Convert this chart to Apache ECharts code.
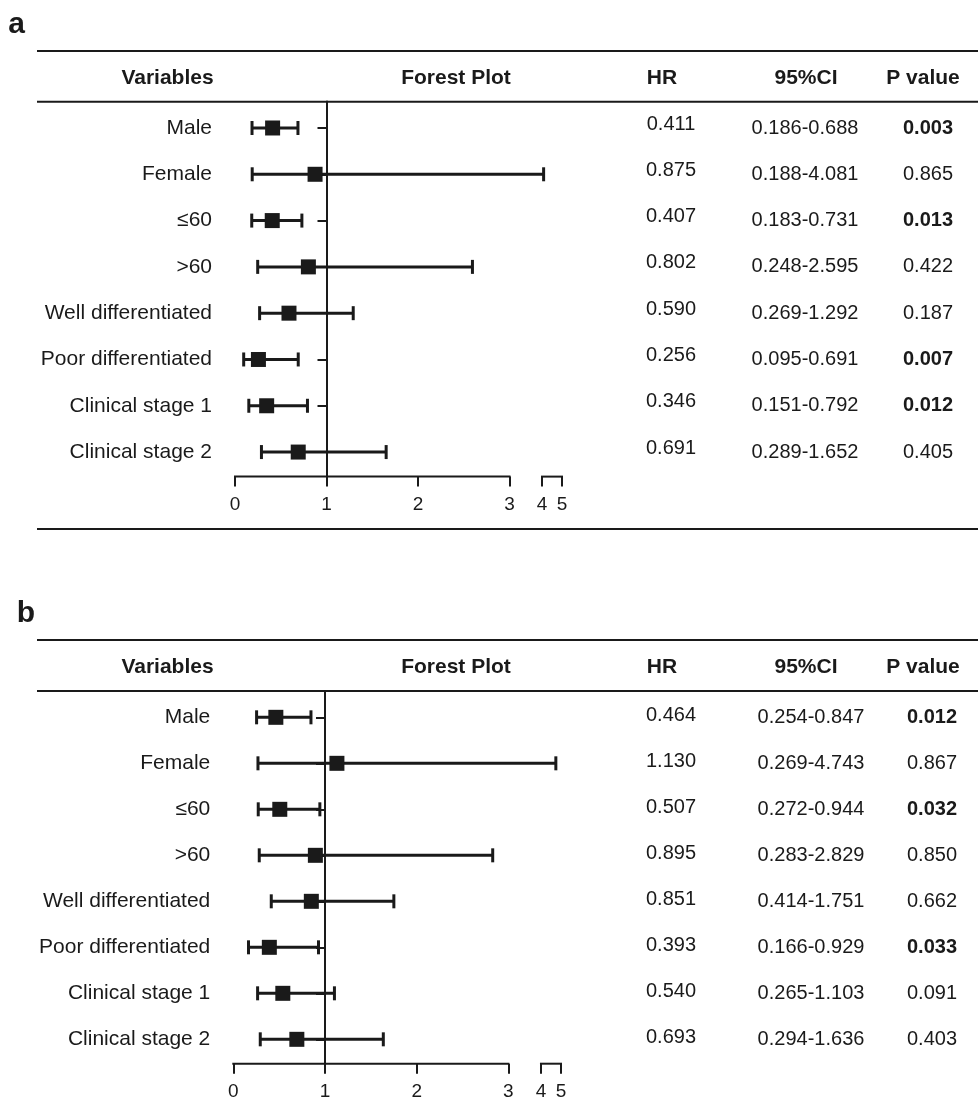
<!DOCTYPE html>
<html>
<head>
<meta charset="utf-8">
<script src="https://cdn.jsdelivr.net/npm/echarts@6/dist/echarts.min.js"></script>
<style>
  html, body { margin: 0; padding: 0; background: #fff; }
  #chart { width: 978px; height: 1113px; }
</style>
</head>
<body>
<div id="chart"></div>
<script>
var varNames = ['Male', 'Female', '≤60', '>60', 'Well differentiated', 'Poor differentiated', 'Clinical stage 1', 'Clinical stage 2'];

// panel a
var hrA = [0.411, 0.875, 0.407, 0.802, 0.590, 0.256, 0.346, 0.691];
var loA = [0.186, 0.188, 0.183, 0.248, 0.269, 0.095, 0.151, 0.289];
var hiA = [0.688, 4.081, 0.731, 2.595, 1.292, 0.691, 0.792, 1.652];
var pA  = [0.003, 0.865, 0.013, 0.422, 0.187, 0.007, 0.012, 0.405];

// panel b
var hrB = [0.464, 1.130, 0.507, 0.895, 0.851, 0.393, 0.540, 0.693];
var loB = [0.254, 0.269, 0.272, 0.283, 0.414, 0.166, 0.265, 0.294];
var hiB = [0.847, 4.743, 0.944, 2.829, 1.751, 0.929, 1.103, 1.636];
var pB  = [0.012, 0.867, 0.032, 0.850, 0.662, 0.033, 0.091, 0.403];

var xTicks = [0, 1, 2, 3, 4, 5];
var axisPieces = [[0, 3], [4, 5]];

var FONT = 'Liberation Sans, Arial, sans-serif';
var INK = '#1a1a1a';
var Y_MIN = -0.57, Y_MAX = 7.53;

// broken scale: 0-3 linear, 3-4 squeezed, 4-5 squeezed more; shifted so HR=1 sits at 0
var D4 = 3 + 32.5 / 91.5, D5 = D4 + 20 / 91.5;
function tx(v) {
  var d;
  if (v <= 3) d = v;
  else if (v <= 4) d = 3 + (v - 3) * (D4 - 3);
  else d = D4 + (v - 4) * (D5 - D4);
  return d - 1;
}
var xTickPos = xTicks.map(tx);
function tickLabel(u) {
  for (var i = 0; i < xTickPos.length; i++) {
    if (Math.abs(xTickPos[i] - u) < 1e-6) return String(xTicks[i]);
  }
  return '';
}
var rowIdx = varNames.map(function (n, i) { return i; });

var panels = [
  { grid: { left: 235, top: 101.6, width: 327, height: 375 }, hr: hrA, lo: loA, hi: hiA, p: pA,
    colHR: 671, colCI: 805, colP: 928, hrShift: -4 },
  { grid: { left: 233.3, top: 691.1, width: 327.7, height: 372.6 }, hr: hrB, lo: loB, hi: hiB, p: pB,
    colHR: 671, colCI: 811, colP: 932, hrShift: -2 }
];

function errRender(params, api) {
  var row = api.value(0);
  var mid = api.coord([tx(api.value(1)), row]);
  var lo = api.coord([tx(api.value(2)), row]);
  var hi = api.coord([tx(api.value(3)), row]);
  var st = { stroke: INK, lineWidth: 3 };
  var cap = 7, box = 7.5;
  return {
    type: 'group',
    children: [
      { type: 'line', shape: { x1: lo[0], y1: lo[1], x2: hi[0], y2: hi[1] }, style: st },
      { type: 'line', shape: { x1: lo[0], y1: lo[1] - cap, x2: lo[0], y2: lo[1] + cap }, style: st },
      { type: 'line', shape: { x1: hi[0], y1: hi[1] - cap, x2: hi[0], y2: hi[1] + cap }, style: st },
      { type: 'rect', shape: { x: mid[0] - box, y: mid[1] - box, width: box * 2, height: box * 2 }, style: { fill: INK } }
    ]
  };
}

function axisRender(params, api) {
  var a = api.coord([tx(api.value(0)), Y_MAX]);
  var b = api.coord([tx(api.value(1)), Y_MAX]);
  return { type: 'line', shape: { x1: a[0] - 1, y1: a[1], x2: b[0] + 1, y2: b[1] }, style: { stroke: INK, lineWidth: 2 } };
}

function tableRender(pn) {
  return function (params, api) {
    var i = api.value(0);
    var y = api.coord([0, i])[1];
    var ci = pn.lo[i].toFixed(3) + '-' + pn.hi[i].toFixed(3);
    var bold = pn.p[i] < 0.05;
    function txt(x, yy, s, w) {
      return { type: 'text', x: x, y: yy,
        style: { text: s, fill: INK, font: (w || 'normal') + ' 20px ' + FONT, align: 'center', verticalAlign: 'middle' } };
    }
    return {
      type: 'group',
      children: [
        txt(pn.colHR, y + pn.hrShift, pn.hr[i].toFixed(3)),
        txt(pn.colCI, y, ci),
        txt(pn.colP, y, pn.p[i].toFixed(3), bold ? 'bold' : 'normal')
      ]
    };
  };
}

var grids = [], xAxes = [], yAxes = [], series = [];
panels.forEach(function (pn, k) {
  grids.push(pn.grid);
  xAxes.push({
    type: 'value', gridIndex: k, min: -1, max: tx(5),
    axisLine: { show: false, onZero: false },
    splitLine: { show: false },
    axisTick: { show: true, customValues: xTickPos, length: 10, lineStyle: { color: INK, width: 2 } },
    axisLabel: { customValues: xTickPos, formatter: tickLabel, color: INK, fontSize: 19, fontFamily: FONT, margin: 19 }
  });
  // reference line at HR = 1 with row ticks
  yAxes.push({
    type: 'value', gridIndex: k, min: Y_MIN, max: Y_MAX, inverse: true,
    axisLine: { show: true, onZero: true, onZeroAxisIndex: k, lineStyle: { color: INK, width: 2 } },
    axisTick: { show: true, customValues: rowIdx, length: 9, lineStyle: { color: INK, width: 2 } },
    axisLabel: { show: false },
    splitLine: { show: false }
  });
  // variable names
  yAxes.push({
    type: 'value', gridIndex: k, min: Y_MIN, max: Y_MAX, inverse: true, position: 'left',
    axisLine: { show: false, onZero: false },
    axisTick: { show: false },
    splitLine: { show: false },
    axisLabel: { customValues: rowIdx, formatter: function (v) { return varNames[Math.round(v)]; },
      color: INK, fontSize: 21, fontFamily: FONT, margin: 23 }
  });
  var rows = rowIdx.map(function (i) { return [i, pn.hr[i], pn.lo[i], pn.hi[i]]; });
  series.push({ type: 'custom', xAxisIndex: k, yAxisIndex: k * 2, renderItem: axisRender, data: axisPieces, clip: false, silent: true });
  series.push({ type: 'custom', xAxisIndex: k, yAxisIndex: k * 2, renderItem: errRender, data: rows, clip: false, silent: true });
  series.push({ type: 'custom', xAxisIndex: k, yAxisIndex: k * 2, renderItem: tableRender(pn),
    data: rowIdx.map(function (i) { return [i]; }), clip: false, silent: true });
});

function hline(y) {
  return { type: 'line', shape: { x1: 37, y1: y, x2: 978, y2: y }, style: { stroke: INK, lineWidth: 2 } };
}
function head(x, y, s, size) {
  return { type: 'text', x: x, y: y,
    style: { text: s, fill: INK, font: 'bold ' + (size || 21) + 'px ' + FONT, align: 'center', verticalAlign: 'middle' } };
}
var headers = ['Variables', 'Forest Plot', 'HR', '95%CI', 'P value'];
var headerX = [167.5, 456, 662, 806, 923];
var graphics = [];
[{ y: 78, top: 51, under: 101.7, bottom: 529, letter: 'a', lx: 16.5, ly: 25 },
 { y: 667, top: 640, under: 691, bottom: null, letter: 'b', lx: 26, ly: 614 }].forEach(function (h) {
  graphics.push(head(h.lx, h.ly, h.letter, 30));
  graphics.push(hline(h.top));
  graphics.push(hline(h.under));
  if (h.bottom) graphics.push(hline(h.bottom));
  headers.forEach(function (s, i) { graphics.push(head(headerX[i], h.y, s)); });
});

var chart = echarts.init(document.getElementById('chart'), null, { renderer: 'canvas' });
chart.setOption({
  animation: false,
  backgroundColor: '#fff',
  grid: grids,
  xAxis: xAxes,
  yAxis: yAxes,
  series: series,
  graphic: graphics
});
</script>
</body>
</html>
